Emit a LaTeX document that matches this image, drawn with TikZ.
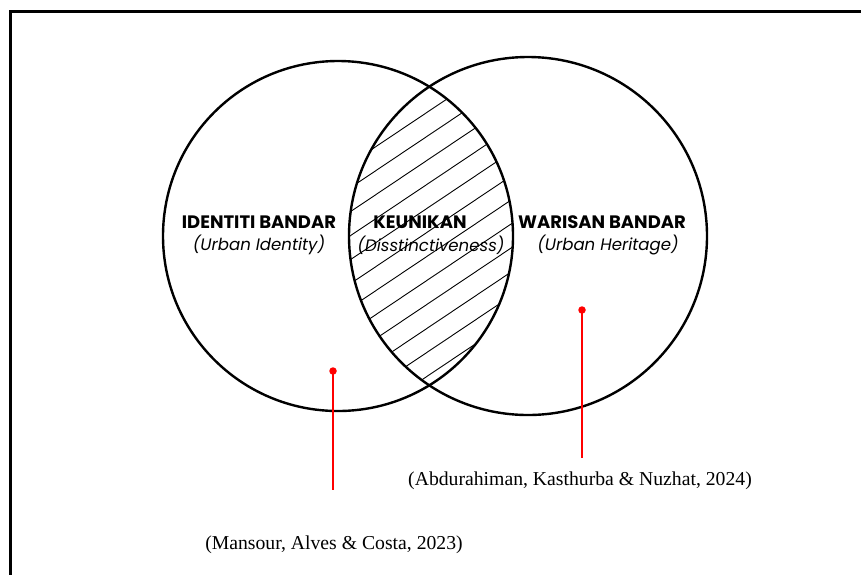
\documentclass[tikz,border=0pt]{standalone}
\usepackage{fontspec}
\setmainfont{Liberation Serif}
\newfontfamily\venfont{Poppins}
\usetikzlibrary{positioning}

\begin{document}
\begin{tikzpicture}[x=1pt,y=-1pt,
    set/.style={circle,draw,line width=2.4pt,inner sep=0pt},
    title/.style={font=\venfont\fontsize{18}{20}\selectfont\bfseries},
    sub/.style={font=\venfont\fontsize{16.6}{19}\selectfont\itshape},
    cite/.style={font=\fontsize{19.7}{23}\selectfont},
    pin/.style={circle,fill=red,inner sep=0pt,minimum size=7.5pt},
    lead/.style={red,line width=1.8pt}]
    \useasboundingbox (0,0) rectangle (861,574);
    % Draw the frame
    \draw[line width=3pt] (10.5,590) -- (10.5,11.5) -- (880,11.5);
    % Draw the two sets
    \node[set,minimum size=350pt] (identity) at (338,236) {};
    \node[set,minimum size=358pt] (heritage) at (528,236) {};
    % Hatch the overlap
    \begin{scope}
        \clip (identity.center) circle (175pt);
        \clip (heritage.center) circle (179pt);
        \foreach \k in {-8,...,8}
            \draw[line width=0.9pt] (335,{294+24*\k}) -- (535,{160+24*\k});
    \end{scope}
    % Labels of the sets
    \node[title] (identityname) at (259,222) {IDENTITI BANDAR};
    \node[sub] (identityen) at (259,245) {(Urban Identity)};
    \node[title] (uniquename) at (420,222) {KEUNIKAN};
    \node[sub] (uniqueen) at (431,245) {(Disstinctiveness)};
    \node[title] (heritagename) at (602,222) {WARISAN BANDAR};
    \node[sub] (heritageen) at (608,245) {(Urban Heritage)};
    % Sources
    \node[pin] (identitypin) at (333,371) {};
    \node[pin] (heritagepin) at (582,310) {};
    \node[cite] (identitysrc) at (334,545) {(Mansour, Alves \& Costa, 2023)};
    \node[cite] (heritagesrc) at (580,481) {(Abdurahiman, Kasthurba \& Nuzhat, 2024)};
    \coordinate (identityend) at (333,490);
    \coordinate (heritageend) at (582,458);
    \draw[lead] (identitypin.center) -- (identityend);
    \draw[lead] (heritagepin.center) -- (heritageend);
\end{tikzpicture}
\end{document}
